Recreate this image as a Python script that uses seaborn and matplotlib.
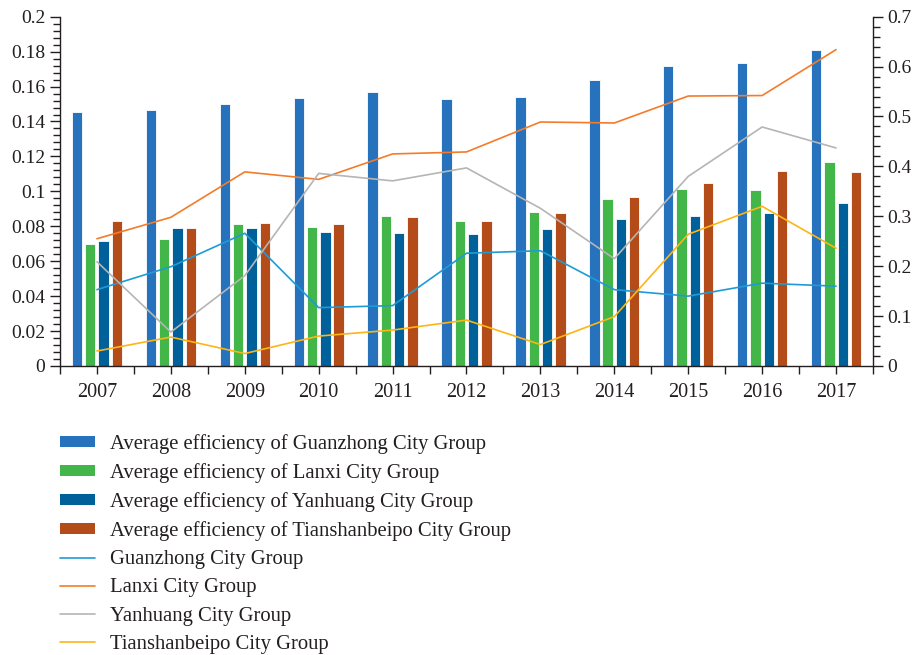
import numpy as np
import pandas as pd
import matplotlib
matplotlib.use("Agg")
import matplotlib.pyplot as plt
from matplotlib.patches import Patch
from matplotlib.lines import Line2D
import seaborn as sns

years = ["2007", "2008", "2009", "2010", "2011", "2012", "2013", "2014", "2015", "2016", "2017"]

bar_guanzhong = [0.1452, 0.1463, 0.1500, 0.1532, 0.1566, 0.1526, 0.1540, 0.1639, 0.1719, 0.1736, 0.1811]
bar_lanxi = [0.0697, 0.0728, 0.0814, 0.0797, 0.0858, 0.0833, 0.0884, 0.0957, 0.1014, 0.1005, 0.1169]
bar_yanhuang = [0.0716, 0.0789, 0.0793, 0.0768, 0.0760, 0.0758, 0.0785, 0.0842, 0.0858, 0.0877, 0.0936]
bar_tianshan = [0.0833, 0.0789, 0.0820, 0.0814, 0.0854, 0.0831, 0.0877, 0.0965, 0.1049, 0.1116, 0.1108]

line_guanzhong = [0.153, 0.199, 0.266, 0.117, 0.121, 0.226, 0.231, 0.153, 0.140, 0.166, 0.160]
line_lanxi = [0.255, 0.298, 0.389, 0.374, 0.425, 0.429, 0.489, 0.487, 0.541, 0.542, 0.634]
line_yanhuang = [0.209, 0.068, 0.181, 0.386, 0.371, 0.397, 0.316, 0.215, 0.380, 0.479, 0.437]
line_tianshan = [0.030, 0.058, 0.025, 0.060, 0.072, 0.092, 0.043, 0.099, 0.264, 0.320, 0.236]

bar_names = ["Average efficiency of Guanzhong City Group",
             "Average efficiency of Lanxi City Group",
             "Average efficiency of Yanhuang City Group",
             "Average efficiency of Tianshanbeipo City Group"]
line_names = ["Guanzhong City Group", "Lanxi City Group",
              "Yanhuang City Group", "Tianshanbeipo City Group"]

left_ticks = [0, 0.02, 0.04, 0.06, 0.08, 0.1, 0.12, 0.14, 0.16, 0.18, 0.2]
right_ticks = [0, 0.1, 0.2, 0.3, 0.4, 0.5, 0.6, 0.7]

bar_colors = ["#2672BD", "#43B649", "#00619A", "#B44C1A"]
line_colors = ["#1E9BD7", "#F47B2A", "#B5B5B5", "#FDB515"]

sns.set_style("ticks")
plt.rcParams["font.family"] = ["Liberation Serif", "DejaVu Serif"]
plt.rcParams["text.color"] = "#231f20"
plt.rcParams["xtick.color"] = "#231f20"
plt.rcParams["ytick.color"] = "#231f20"

bars_df = pd.DataFrame({
    "year": years * 4,
    "value": bar_guanzhong + bar_lanxi + bar_yanhuang + bar_tianshan,
    "series": sum([[n] * len(years) for n in bar_names], []),
})

fig = plt.figure(figsize=(9.14, 6.55), dpi=100)
ax = fig.add_axes([60 / 914, 1 - 366 / 655, (873 - 60) / 914, (366 - 16.7) / 655])

sns.barplot(data=bars_df, x="year", y="value", hue="series", hue_order=bar_names,
            palette=bar_colors, width=0.72, gap=0.22, ax=ax, legend=False,
            edgecolor="white", linewidth=0.6, saturation=1)

ax2 = ax.twinx()
xpos = np.arange(len(years))
for vals, c in zip([line_guanzhong, line_lanxi, line_yanhuang, line_tianshan], line_colors):
    sns.lineplot(x=xpos, y=vals, color=c, linewidth=1.2, ax=ax2)

ax.set_xlim(-0.5, len(years) - 0.5)
ax.set_ylim(0, 0.2)
ax2.set_ylim(0, 0.7)
ax.set_xlabel("")
ax.set_ylabel("")

ax.set_yticks(left_ticks)
ax.set_yticklabels([f"{t:g}" for t in left_ticks], fontsize=14)
ax.set_yticks(np.arange(0, 0.2001, 0.004), minor=True)
ax2.set_yticks(right_ticks)
ax2.set_yticklabels([f"{t:g}" for t in right_ticks], fontsize=14)
ax2.set_yticks(np.arange(0, 0.7001, 0.02), minor=True)

ax.set_xticks(xpos)
ax.set_xticklabels(years, fontsize=14.5)
ax.set_xticks(np.arange(-0.5, len(years), 1.0), minor=True)

for a in (ax, ax2):
    a.spines["top"].set_visible(False)
    for s in a.spines.values():
        s.set_color("#231f20")
        s.set_linewidth(1.0)
    a.tick_params(which="major", length=7, width=1.0)
    a.tick_params(which="minor", length=5, width=1.0)
ax.tick_params(axis="x", which="both", length=6, pad=6)
ax.spines["right"].set_visible(False)
ax2.spines["left"].set_visible(False)
ax2.spines["bottom"].set_visible(False)

handles = [Patch(facecolor=c, edgecolor="none") for c in bar_colors] + \
          [Line2D([0], [0], color=c, linewidth=1.2) for c in line_colors]
labels = bar_names + line_names
fig.legend(handles, labels, loc="upper left", bbox_to_anchor=(52 / 914, 1 - 426 / 655),
           frameon=False, fontsize=14.9, handlelength=1.7, handleheight=0.45,
           labelspacing=0.44, handletextpad=0.68, borderaxespad=0)

fig.savefig("out.png", dpi=100)
